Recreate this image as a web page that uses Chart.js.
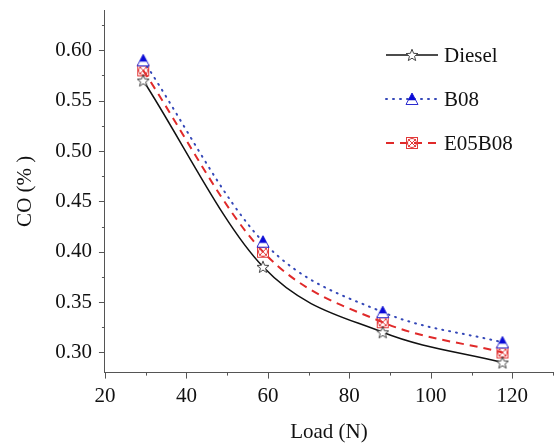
<!DOCTYPE html>
<html>
<head>
<meta charset="utf-8">
<script src="https://cdn.jsdelivr.net/npm/chart.js@4.4.0/dist/chart.umd.min.js"></script>
<style>
  html, body { margin: 0; padding: 0; background: #fff; }
  #wrap { width: 554px; height: 445px; }
</style>
</head>
<body>
<div id="wrap"><canvas id="coChart" width="554" height="445"></canvas></div>
<script>
// Load in newtons (3, 6, 9, 12 kg)
const loads = [29.4, 58.8, 88.2, 117.6];

// CO emissions in percent
const dieselCO = [0.57, 0.385, 0.32, 0.29];
const b08CO = [0.59, 0.41, 0.34, 0.31];
const e05b08CO = [0.58, 0.40, 0.33, 0.30];

const seriesNames = ['Diesel', 'B08', 'E05B08'];

const xTicks = [20, 40, 60, 80, 100, 120];
const yTicks = [0.30, 0.35, 0.40, 0.45, 0.50, 0.55, 0.60];

const FONT = 'Liberation Serif';

// --- marker images ---
function makeMarker(draw) {
  const c = document.createElement('canvas');
  c.width = 14;
  c.height = 14;
  draw(c.getContext('2d'));
  return c;
}

const starMarker = makeMarker(ctx => {
  ctx.beginPath();
  for (let i = 0; i < 10; i++) {
    const r = i % 2 === 0 ? 6.3 : 2.7;
    const a = -Math.PI / 2 + i * Math.PI / 5;
    const px = 7 + r * Math.cos(a);
    const py = 7.5 + r * Math.sin(a);
    if (i === 0) ctx.moveTo(px, py); else ctx.lineTo(px, py);
  }
  ctx.closePath();
  ctx.fillStyle = '#fff';
  ctx.fill();
  ctx.strokeStyle = '#444';
  ctx.lineWidth = 1;
  ctx.stroke();
});

const triangleMarker = makeMarker(ctx => {
  // outline of the whole triangle, top half filled
  ctx.beginPath();
  ctx.moveTo(7, 1);
  ctx.lineTo(13, 12.5);
  ctx.lineTo(1, 12.5);
  ctx.closePath();
  ctx.fillStyle = '#fff';
  ctx.fill();
  ctx.strokeStyle = '#2a2ad0';
  ctx.lineWidth = 1;
  ctx.stroke();
  ctx.beginPath();
  ctx.moveTo(7, 1);
  ctx.lineTo(10.8, 8.3);
  ctx.lineTo(3.2, 8.3);
  ctx.closePath();
  ctx.fillStyle = '#0a0ad8';
  ctx.fill();
});

const crossCircleMarker = makeMarker(ctx => {
  ctx.strokeStyle = '#e23a3a';
  ctx.lineWidth = 1;
  ctx.strokeRect(1.5, 1.5, 11, 11);
  ctx.beginPath();
  ctx.arc(7, 7, 4.5, 0, Math.PI * 2);
  ctx.moveTo(3, 3);
  ctx.lineTo(11, 11);
  ctx.moveTo(11, 3);
  ctx.lineTo(3, 11);
  ctx.stroke();
});

function toPoints(ys) {
  return loads.map((x, i) => ({ x: x, y: ys[i] }));
}

// no extra room for edge labels, the axes run to the plot box corners
function noEdgePadding(scale) {
  scale.paddingTop = 0;
  scale.paddingBottom = 0;
  scale.paddingLeft = 0;
  scale.paddingRight = 0;
}

// tick marks drawn by hand so minor ticks can be shorter
const tickMarks = {
  id: 'tickMarks',
  afterDraw(chart) {
    const ctx = chart.ctx;
    const xs = chart.scales.x;
    const ys = chart.scales.y;
    ctx.save();
    ctx.strokeStyle = '#555';
    ctx.lineWidth = 1;
    ctx.beginPath();
    for (let v = 20; v <= 130; v += 10) {
      const px = Math.round(xs.getPixelForValue(v)) + 0.5;
      const len = v % 20 === 0 ? 6 : 3;
      ctx.moveTo(px, xs.top);
      ctx.lineTo(px, xs.top + len);
    }
    for (let k = 0; k <= 13; k++) {
      const v = 0.30 + k * 0.025;
      const py = Math.round(ys.getPixelForValue(v)) + 0.5;
      const len = k % 2 === 0 ? 6 : 3;
      ctx.moveTo(ys.right, py);
      ctx.lineTo(ys.right - len, py);
    }
    ctx.stroke();
    ctx.restore();
  }
};

// legend with line sample and marker in the middle
const lineLegend = {
  id: 'lineLegend',
  afterDraw(chart) {
    const ctx = chart.ctx;
    ctx.save();
    ctx.font = '21px "' + FONT + '"';
    ctx.textBaseline = 'middle';
    ctx.fillStyle = '#111';
    chart.data.datasets.forEach((ds, i) => {
      const y = 55 + i * 44;
      ctx.strokeStyle = ds.borderColor;
      ctx.lineWidth = ds.borderWidth;
      ctx.lineCap = ds.borderCapStyle || 'butt';
      ctx.setLineDash(ds.borderDash || []);
      ctx.beginPath();
      ctx.moveTo(386, y);
      ctx.lineTo(438, y);
      ctx.stroke();
      ctx.setLineDash([]);
      ctx.drawImage(ds.pointStyle, 412 - 7, y - 7);
      ctx.fillText(seriesNames[i], 444, y + 1);
    });
    ctx.restore();
  }
};

const ctx = document.getElementById('coChart');

new Chart(ctx, {
  type: 'line',
  data: {
    datasets: [
      {
        label: seriesNames[0],
        data: toPoints(dieselCO),
        borderColor: '#111',
        borderWidth: 1.5,
        pointStyle: starMarker,
        cubicInterpolationMode: 'monotone'
      },
      {
        label: seriesNames[1],
        data: toPoints(b08CO),
        borderColor: '#3548b8',
        borderWidth: 2,
        borderDash: [1, 6],
        borderCapStyle: 'round',
        pointStyle: triangleMarker,
        cubicInterpolationMode: 'monotone'
      },
      {
        label: seriesNames[2],
        data: toPoints(e05b08CO),
        borderColor: '#e02a2a',
        borderWidth: 2,
        borderDash: [8, 6],
        pointStyle: crossCircleMarker,
        cubicInterpolationMode: 'monotone'
      }
    ]
  },
  options: {
    responsive: false,
    animation: false,
    layout: { autoPadding: false, padding: { top: 10, right: 1, left: 0, bottom: 0 } },
    plugins: {
      legend: { display: false },
      tooltip: { enabled: false }
    },
    scales: {
      x: {
        type: 'linear',
        min: 20,
        max: 130,
        afterBuildTicks: scale => { scale.ticks = xTicks.map(v => ({ value: v })); },
        afterFit: noEdgePadding,
        grid: { display: false, drawTicks: false },
        border: { display: true, color: '#555', width: 1 },
        ticks: {
          padding: 11,
          color: '#111',
          font: { family: FONT, size: 21 },
          maxRotation: 0
        },
        title: {
          display: true,
          text: 'Load (N)',
          color: '#111',
          font: { family: FONT, size: 21 },
          padding: { top: 0, bottom: 0 }
        }
      },
      y: {
        type: 'linear',
        min: 0.28,
        max: 0.64,
        afterBuildTicks: scale => { scale.ticks = yTicks.map(v => ({ value: v })); },
        afterFit: noEdgePadding,
        grid: { display: false, drawTicks: false },
        border: { display: true, color: '#555', width: 1 },
        ticks: {
          padding: 13,
          color: '#111',
          font: { family: FONT, size: 21 },
          callback: v => v.toFixed(2)
        },
        title: {
          display: true,
          text: 'CO (% )',
          color: '#111',
          font: { family: FONT, size: 21 },
          padding: { top: 12.5, bottom: 4.5 }
        }
      }
    }
  },
  plugins: [tickMarks, lineLegend]
});
</script>
</body>
</html>
